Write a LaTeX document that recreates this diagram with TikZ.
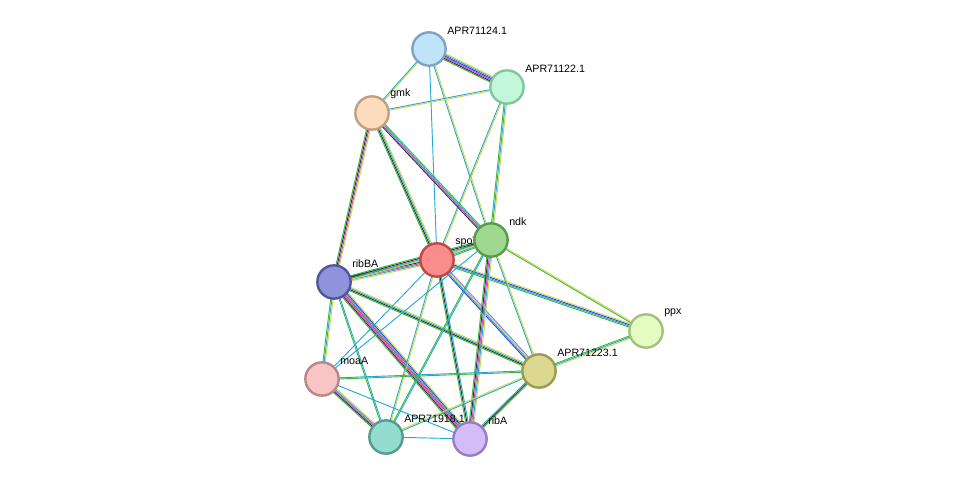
\documentclass[tikz,border=0pt]{standalone}
\usepackage{fontspec}
\setmainfont{Liberation Sans}
\usetikzlibrary{calc}
\definecolor{sgreen}{HTML}{3DBA3D}
\definecolor{sblue}{HTML}{3A3AF0}
\definecolor{scyan}{HTML}{26A8D8}
\definecolor{smag}{HTML}{D63AD6}
\definecolor{sblack}{HTML}{333333}
\definecolor{syellow}{HTML}{C8D848}
\definecolor{sred}{HTML}{E83A3A}
\definecolor{spurple}{HTML}{8A7AF0}
\tikzset{
    %protein nodes
    prot/.style={circle, line width=1.8pt, minimum size=25pt, inner sep=0pt},
    plabel/.style={anchor=south west, font=\fontsize{8}{9}\selectfont, inner sep=0pt},
    ln/.style={line width=0.7pt}
}
% \edge{a}{b}{colours}
\newcommand{\edge}[3]{%
  \foreach \c [count=\i] in {#3} {\xdef\nlines{\i}}%
  \foreach \c [count=\i] in {#3} {%
    \pgfmathsetmacro{\off}{(\i-(\nlines+1)/2)*0.9}%
    \draw[ln, draw=\c] ($(#1)!\off pt!90:(#2)$) -- ($(#2)!\off pt!-90:(#1)$);
  }%
}
\begin{document}
\begin{tikzpicture}[x=0.75pt, y=-0.75pt]
\useasboundingbox (0,0) rectangle (975,485);
% node centres
\coordinate (A24) at (429,49);
\coordinate (A22) at (507,87);
\coordinate (gmk) at (372,113);
\coordinate (ndk) at (491,240);
\coordinate (spo) at (437,260);
\coordinate (ribBA) at (334,282);
\coordinate (ppx) at (646,331);
\coordinate (A1223) at (539,371);
\coordinate (moaA) at (322,379);
\coordinate (A1918) at (386,437);
\coordinate (ribA) at (470,439);
% edges
\edge{A24}{A22}{sgreen,sblack,smag,sblue,scyan,syellow}
\edge{A24}{gmk}{scyan,syellow}
\edge{A24}{ndk}{scyan,syellow}
\edge{A24}{spo}{scyan}
\edge{A22}{gmk}{scyan,syellow}
\edge{A22}{ndk}{sgreen,scyan,syellow}
\edge{A22}{spo}{scyan,syellow}
\edge{gmk}{ndk}{sblack,smag,scyan,sgreen}
\edge{gmk}{spo}{sgreen,sblack,scyan,syellow}
\edge{gmk}{ribBA}{sgreen,sblack,smag,syellow}
\edge{spo}{ndk}{sgreen,scyan,syellow,sblack}
\edge{spo}{ribBA}{sgreen,sblack,smag,scyan,syellow}
\edge{ndk}{ribBA}{sgreen,sblack,scyan,syellow}
\edge{spo}{ppx}{sgreen,scyan,sblue,syellow}
\edge{ndk}{ppx}{sgreen,syellow}
\edge{spo}{A1223}{sblue,scyan,syellow,spurple}
\edge{ndk}{A1223}{scyan,syellow}
\edge{ppx}{A1223}{sgreen,scyan,syellow}
\edge{ribBA}{A1223}{sgreen,sblack,scyan,syellow}
\edge{ribBA}{moaA}{sgreen,scyan,syellow}
\edge{ribBA}{A1918}{sgreen,scyan}
\edge{ribBA}{ribA}{sgreen,sblack,smag,sred,scyan,sblue,syellow}
\edge{spo}{moaA}{scyan}
\edge{spo}{A1918}{scyan,syellow}
\edge{spo}{ribA}{sgreen,sblack,scyan}
\edge{ndk}{A1918}{sgreen,scyan}
\edge{ndk}{ribA}{sgreen,sblack,smag,scyan,syellow}
\edge{ndk}{moaA}{scyan}
\edge{moaA}{A1223}{sgreen,scyan}
\edge{moaA}{A1918}{sgreen,sblack,smag,scyan,syellow}
\edge{moaA}{ribA}{scyan}
\edge{A1918}{ribA}{scyan}
\edge{A1918}{A1223}{scyan,syellow}
\edge{ribA}{A1223}{sgreen,sblack,scyan}
% nodes
\node[prot, fill={rgb,255:red,191;green,228;blue,248}, draw={rgb,255:red,127;green,165;blue,190}] (n24) at (A24) {};
\node[prot, fill={rgb,255:red,194;green,247;blue,217}, draw={rgb,255:red,127;green,200;blue,158}] (n22) at (A22) {};
\node[prot, fill={rgb,255:red,252;green,220;blue,188}, draw={rgb,255:red,192;green,160;blue,128}] (ngmk) at (gmk) {};
\node[prot, fill={rgb,255:red,251;green,140;blue,140}, draw={rgb,255:red,192;green,72;blue,72}] (nspo) at (spo) {};
\node[plabel] at ($(spo)+(18,-13)$) {spoT};
\node[prot, fill={rgb,255:red,159;green,217;blue,143}, draw={rgb,255:red,90;green,154;blue,74}] (nndk) at (ndk) {};
\node[prot, fill={rgb,255:red,144;green,147;blue,219}, draw={rgb,255:red,80;green,86;blue,154}] (nribBA) at (ribBA) {};
\node[prot, fill={rgb,255:red,228;green,252;blue,192}, draw={rgb,255:red,164;green,192;blue,128}] (nppx) at (ppx) {};
\node[prot, fill={rgb,255:red,220;green,216;blue,144}, draw={rgb,255:red,154;green,154;blue,80}] (n1223) at (A1223) {};
\node[prot, fill={rgb,255:red,248;green,196;blue,196}, draw={rgb,255:red,184;green,136;blue,136}] (nmoaA) at (moaA) {};
\node[prot, fill={rgb,255:red,148;green,220;blue,207}, draw={rgb,255:red,86;green,154;blue,144}] (n1918) at (A1918) {};
\node[prot, fill={rgb,255:red,212;green,188;blue,248}, draw={rgb,255:red,148;green,128;blue,192}] (nribA) at (ribA) {};
% labels
\node[plabel] at ($(A24)+(18,-14)$) {APR71124.1};
\node[plabel] at ($(A22)+(18,-14)$) {APR71122.1};
\node[plabel] at ($(gmk)+(18,-14)$) {gmk};
\node[plabel] at ($(ndk)+(18,-14)$) {ndk};
\node[plabel] at ($(ribBA)+(18,-14)$) {ribBA};
\node[plabel] at ($(ppx)+(18,-14)$) {ppx};
\node[plabel] at ($(A1223)+(18,-14)$) {APR71223.1};
\node[plabel] at ($(moaA)+(18,-14)$) {moaA};
\node[plabel] at ($(A1918)+(18,-14)$) {APR71918.1};
\node[plabel] at ($(ribA)+(18,-14)$) {ribA};
\end{tikzpicture}
\end{document}
